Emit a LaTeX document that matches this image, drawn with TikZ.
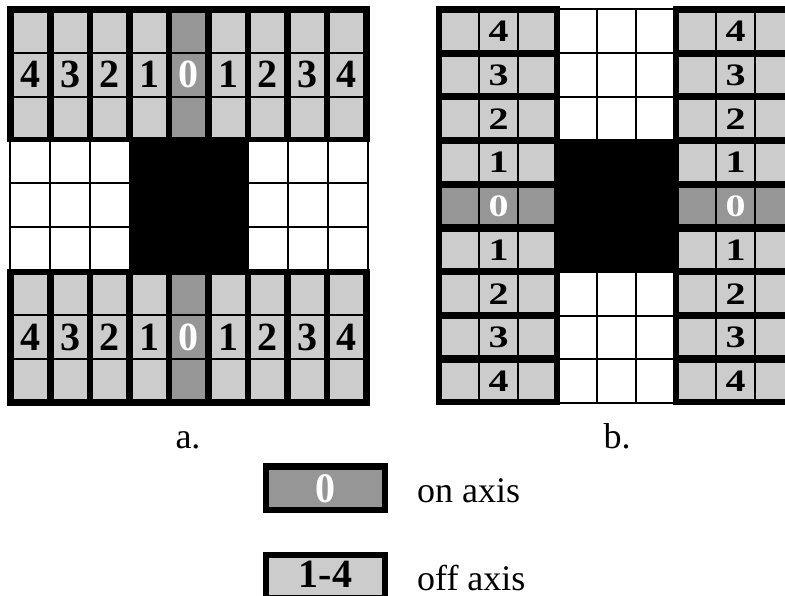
\documentclass[tikz,border=0pt]{standalone}
\usepackage{fontspec}
\setmainfont{Liberation Serif}
\definecolor{lightg}{gray}{0.8}
\definecolor{darkg}{gray}{0.59}
\begin{document}
\begin{tikzpicture}[x=1pt,y=-1pt,
  cellbox/.style={draw=none,inner sep=0pt,outer sep=0pt,anchor=north west},
  gline/.style={line width=1.5pt,black},
  digA/.style={font=\fontsize{40}{40}\selectfont\bfseries,inner sep=0pt},
  lab/.style={font=\fontsize{36}{36}\selectfont,inner sep=0pt}]
\useasboundingbox[fill=white] (0,0) rectangle (785,595);

% ---------- panel a ----------
\fill[black] (7,6) rectangle (370,142);
\fill[black] (7,269) rectangle (370,406);
\foreach \i in {0,...,8}{
  \pgfmathsetmacro\xl{14+39.5*\i}
  \pgfmathtruncatemacro\d{abs(\i-4)}
  \ifnum\d=0 \def\cf{darkg}\def\tc{white}\else\def\cf{lightg}\def\tc{black}\fi
  \node[cellbox,fill=\cf,minimum width=33pt,minimum height=124pt] (at\i) at (\xl,13) {};
  \node[cellbox,fill=\cf,minimum width=33pt,minimum height=124pt] (ab\i) at (\xl,275) {};
  \draw[gline] (\xl,53) -- ++(33,0) (\xl,97) -- ++(33,0);
  \draw[gline] (\xl,315) -- ++(33,0) (\xl,359) -- ++(33,0);
  \node[digA,text=\tc] (dat\i) at (\xl+16.5,74) {\d};
  \node[digA,text=\tc] (dab\i) at (\xl+16.5,337) {\d};
}
% middle of panel a
\fill[black] (129,142) rectangle (249,269);
\draw[gline] (10,142) -- (10,269) (50,142) -- (50,269) (90,142) -- (90,269);
\draw[gline] (10,183) -- (129,183) (10,227) -- (129,227);
\draw[gline] (288,142) -- (288,269) (328,142) -- (328,269) (368,142) -- (368,269);
\draw[gline] (249,183) -- (368,183) (249,227) -- (368,227);

% ---------- panel b ----------
\fill[black] (436,6) rectangle (560,405);
\fill[black] (673,6) rectangle (797,405);
\foreach \j in {0,...,8}{
  \pgfmathsetmacro\yt{13+43.7*\j}
  \pgfmathtruncatemacro\d{abs(\j-4)}
  \ifnum\d=0 \def\cf{darkg}\def\tc{white}\else\def\cf{lightg}\def\tc{black}\fi
  \node[cellbox,fill=\cf,minimum width=112pt,minimum height=36.5pt] (bl\j) at (442,\yt) {};
  \node[cellbox,fill=\cf,minimum width=112pt,minimum height=36.5pt] (br\j) at (679,\yt) {};
  \draw[gline] (479,\yt) -- ++(0,36.5) (518,\yt) -- ++(0,36.5);
  \draw[gline] (716,\yt) -- ++(0,36.5) (755,\yt) -- ++(0,36.5);
  \node[digA,text=\tc] (dbl\j) at (498.5,\yt+18.5) {\scalebox{1}[0.78]{\d}};
  \node[digA,text=\tc] (dbr\j) at (735.5,\yt+18.5) {\scalebox{1}[0.78]{\d}};
}
% middle of panel b
\fill[black] (560,139) rectangle (673,273);
\draw[gline] (560,9) -- (673,9) (560,53) -- (673,53) (560,97) -- (673,97);
\draw[gline] (597,9) -- (597,139) (636,9) -- (636,139);
\draw[gline] (560,316) -- (673,316) (560,359) -- (673,359) (560,403) -- (673,403);
\draw[gline] (597,273) -- (597,403) (636,273) -- (636,403);

% ---------- captions ----------
\node[lab,anchor=base] (capa) at (188,448) {a.};
\node[lab,anchor=base] (capb) at (617,448) {b.};

% ---------- legend ----------
\fill[black] (263,463) rectangle (388,513);
\node[cellbox,fill=darkg,minimum width=113pt,minimum height=37pt] (leg0) at (269,470) {};
\node[digA,text=white] (leg0t) at (leg0.center) {\scalebox{1}[1.05]{0}};
\node[lab,anchor=base west] (legon) at (417,502) {on axis};

\fill[black] (263,552) rectangle (388,602);
\node[cellbox,fill=lightg,minimum width=113pt,minimum height=37pt] (leg1) at (269,558) {};
\node[digA,text=black] (leg1t) at (325.5,574) {1-4};
\node[lab,anchor=base west] (legoff) at (417,590) {off axis};
\end{tikzpicture}
\end{document}
